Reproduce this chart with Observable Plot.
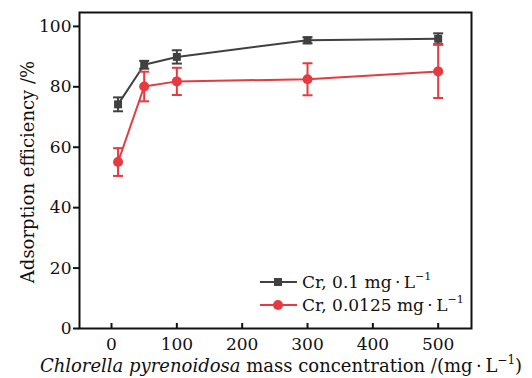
<!DOCTYPE html>
<html><head><meta charset="utf-8">
<script src="https://cdn.jsdelivr.net/npm/d3@7"></script>
<script src="https://cdn.jsdelivr.net/npm/@observablehq/plot@0.6"></script>
<style>body{margin:0;background:#fff}</style>
</head><body><div id="chart"></div>
<script>
const concentrations = [10, 50, 100, 300, 500];
const effHigh = [74.2, 87.3, 89.9, 95.4, 95.9];
const errHigh = [2.3, 1.3, 2.2, 1.0, 1.8];
const effLow = [55.1, 80.1, 81.8, 82.5, 85.1];
const errLow = [4.6, 4.9, 4.5, 5.3, 8.8];
const seriesNames = ["Cr, 0.1 mg\u2009·\u2009L", "Cr, 0.0125 mg\u2009·\u2009L"];
const seriesColors = ["#404040", "#e63a40"];
const xTicks = [0, 100, 200, 300, 400, 500];
const yTicks = [0, 20, 40, 60, 80, 100];

const rows = [];
concentrations.forEach((c, i) => {
  rows.push({s: 0, x: c, y: effHigh[i], lo: effHigh[i] - errHigh[i], hi: effHigh[i] + errHigh[i]});
  rows.push({s: 1, x: c, y: effLow[i], lo: effLow[i] - errLow[i], hi: effLow[i] + errLow[i]});
});
const capSymbol = {draw(ctx, size) { const w = Math.sqrt(size / Math.PI); ctx.moveTo(-w, 0); ctx.lineTo(w, 0); }};
const font = "'DejaVu Serif', serif";

const marks = [];
[0, 1].forEach(s => {
  const d = rows.filter(r => r.s === s);
  const col = seriesColors[s];
  marks.push(Plot.ruleX(d, {x: "x", y1: "lo", y2: "hi", stroke: col, strokeWidth: 2}));
  marks.push(Plot.dot(d, {x: "x", y: "lo", symbol: capSymbol, r: 5, stroke: col, strokeWidth: 2}));
  marks.push(Plot.dot(d, {x: "x", y: "hi", symbol: capSymbol, r: 5, stroke: col, strokeWidth: 2}));
  marks.push(Plot.line(d, {x: "x", y: "y", stroke: col, strokeWidth: 2}));
  marks.push(Plot.dot(d, {x: "x", y: "y", symbol: s === 0 ? "square" : "circle", r: s === 0 ? 4.5 : 5, fill: col, stroke: "none"}));
});

const chart = Plot.plot({
  width: 532, height: 378,
  marginLeft: 79, marginRight: 61, marginTop: 12, marginBottom: 50,
  style: {fontFamily: font, fontSize: "17px", color: "#111", background: "#fff"},
  x: {domain: [-49, 551], ticks: xTicks},
  y: {domain: [0, 104.6], ticks: yTicks},
  marks: [
    Plot.axisX({ticks: xTicks, tickSize: -5, tickPadding: 14, label: null, stroke: "#111", strokeWidth: 2}),
    Plot.axisY({ticks: yTicks, tickSize: 6, tickPadding: 2, label: null, stroke: "#111", strokeWidth: 2}),
    ...marks,
    Plot.frame({stroke: "#111", strokeWidth: 2})
  ]
});
document.getElementById("chart").appendChild(chart);

const svg = d3.select(chart);
const g = svg.append("g").attr("font-family", font).attr("font-size", 17).attr("fill", "#111").attr("text-anchor", "start");
// legend
[0, 1].forEach(s => {
  const yy = s === 0 ? 282 : 305;
  g.append("line").attr("x1", 260).attr("x2", 297).attr("y1", yy).attr("y2", yy)
    .attr("stroke", seriesColors[s]).attr("stroke-width", 2);
  if (s === 0) g.append("rect").attr("x", 274).attr("y", yy - 4).attr("width", 8).attr("height", 8).attr("fill", seriesColors[s]);
  else g.append("circle").attr("cx", 278).attr("cy", yy).attr("r", 5).attr("fill", seriesColors[s]);
  const t = g.append("text").attr("x", 302).attr("y", yy + 6).text(seriesNames[s]);
  t.append("tspan").attr("dy", -8).attr("font-size", 11).text("−1");
});
// axis labels
const xl = g.append("text").attr("x", 281).attr("y", 372).attr("font-size", 18).attr("text-anchor", "middle");
xl.append("tspan").attr("font-style", "italic").text("Chlorella pyrenoidosa");
xl.append("tspan").text(" mass concentration /(mg\u2009·\u2009L");
xl.append("tspan").attr("dy", -8).attr("font-size", 12).text("−1");
xl.append("tspan").attr("dy", 8).text(")");
g.append("text").attr("transform", "translate(34,172) rotate(-90)").attr("font-size", 18).attr("text-anchor", "middle")
  .text("Adsorption efficiency /%");
</script>
</body></html>
